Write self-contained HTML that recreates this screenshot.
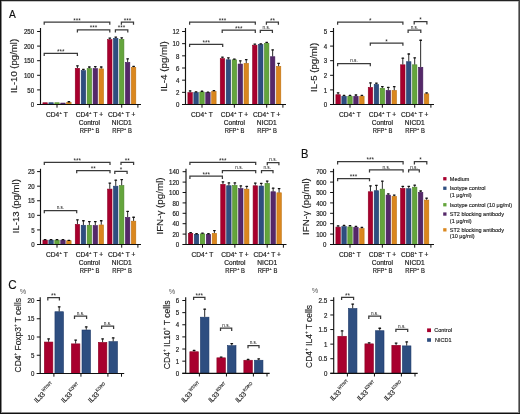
<!DOCTYPE html>
<html><head><meta charset="utf-8"><style>
html,body{margin:0;padding:0;background:#fff;}
body{width:520px;height:414px;overflow:hidden;}
svg{display:block;font-family:"Liberation Sans", sans-serif;will-change:transform;}
</style></head><body>
<svg width="520" height="414" viewBox="0 0 520 414">
<rect width="520" height="414" fill="#fff"/>
<rect x="42.9" y="102.76" width="4.4" height="1.74" fill="#a8002e" stroke="#8a0022" stroke-width="0.6"/>
<rect x="48.85" y="102.76" width="4.4" height="1.74" fill="#2e4e80" stroke="#1c3868" stroke-width="0.6"/>
<rect x="54.8" y="102.76" width="4.4" height="1.74" fill="#64a53c" stroke="#4a8428" stroke-width="0.6"/>
<rect x="60.75" y="103.05" width="4.4" height="1.45" fill="#552869" stroke="#40185a" stroke-width="0.6"/>
<rect x="66.7" y="102.46" width="4.4" height="2.04" fill="#da871e" stroke="#bf700e" stroke-width="0.6"/>
<line x1="68.9" y1="102.16" x2="68.9" y2="101.58" stroke="#111" stroke-width="0.9"/>
<rect x="67.55" y="101.08" width="2.7" height="1.3" rx="0.4" fill="#111"/>
<rect x="75.25" y="68.3" width="4.4" height="36.2" fill="#a8002e" stroke="#8a0022" stroke-width="0.6"/>
<line x1="77.45" y1="68" x2="77.45" y2="65.66" stroke="#111" stroke-width="0.9"/>
<rect x="76.1" y="65.16" width="2.7" height="1.3" rx="0.4" fill="#111"/>
<rect x="81.2" y="70.64" width="4.4" height="33.86" fill="#2e4e80" stroke="#1c3868" stroke-width="0.6"/>
<line x1="83.4" y1="70.34" x2="83.4" y2="69.17" stroke="#111" stroke-width="0.9"/>
<rect x="82.05" y="68.67" width="2.7" height="1.3" rx="0.4" fill="#111"/>
<rect x="87.15" y="68.59" width="4.4" height="35.91" fill="#64a53c" stroke="#4a8428" stroke-width="0.6"/>
<line x1="89.35" y1="68.29" x2="89.35" y2="66.83" stroke="#111" stroke-width="0.9"/>
<rect x="88" y="66.33" width="2.7" height="1.3" rx="0.4" fill="#111"/>
<rect x="93.1" y="68.59" width="4.4" height="35.91" fill="#552869" stroke="#40185a" stroke-width="0.6"/>
<line x1="95.3" y1="68.29" x2="95.3" y2="66.54" stroke="#111" stroke-width="0.9"/>
<rect x="93.95" y="66.04" width="2.7" height="1.3" rx="0.4" fill="#111"/>
<rect x="99.05" y="68.88" width="4.4" height="35.62" fill="#da871e" stroke="#bf700e" stroke-width="0.6"/>
<line x1="101.25" y1="68.58" x2="101.25" y2="66.83" stroke="#111" stroke-width="0.9"/>
<rect x="99.9" y="66.33" width="2.7" height="1.3" rx="0.4" fill="#111"/>
<rect x="107.6" y="39.68" width="4.4" height="64.82" fill="#a8002e" stroke="#8a0022" stroke-width="0.6"/>
<line x1="109.8" y1="39.38" x2="109.8" y2="37.92" stroke="#111" stroke-width="0.9"/>
<rect x="108.45" y="37.42" width="2.7" height="1.3" rx="0.4" fill="#111"/>
<rect x="113.55" y="38.37" width="4.4" height="66.13" fill="#2e4e80" stroke="#1c3868" stroke-width="0.6"/>
<line x1="115.75" y1="38.07" x2="115.75" y2="36.9" stroke="#111" stroke-width="0.9"/>
<rect x="114.4" y="36.4" width="2.7" height="1.3" rx="0.4" fill="#111"/>
<rect x="119.5" y="39.39" width="4.4" height="65.11" fill="#64a53c" stroke="#4a8428" stroke-width="0.6"/>
<line x1="121.7" y1="39.09" x2="121.7" y2="37.63" stroke="#111" stroke-width="0.9"/>
<rect x="120.35" y="37.13" width="2.7" height="1.3" rx="0.4" fill="#111"/>
<rect x="125.45" y="62.46" width="4.4" height="42.04" fill="#552869" stroke="#40185a" stroke-width="0.6"/>
<line x1="127.65" y1="62.16" x2="127.65" y2="58.66" stroke="#111" stroke-width="0.9"/>
<rect x="126.3" y="58.16" width="2.7" height="1.3" rx="0.4" fill="#111"/>
<rect x="131.4" y="67.42" width="4.4" height="37.08" fill="#da871e" stroke="#bf700e" stroke-width="0.6"/>
<line x1="133.6" y1="67.12" x2="133.6" y2="66.25" stroke="#111" stroke-width="0.9"/>
<rect x="132.25" y="65.75" width="2.7" height="1.3" rx="0.4" fill="#111"/>
<line x1="40.5" y1="28" x2="40.5" y2="105" stroke="#111" stroke-width="1.15"/>
<line x1="37.1" y1="104.5" x2="141" y2="104.5" stroke="#111" stroke-width="1.15"/>
<line x1="37.1" y1="104.5" x2="40.5" y2="104.5" stroke="#111" stroke-width="1"/>
<text x="34.1" y="107.23" font-size="6.8" text-anchor="end" fill="#1e1e1e" stroke="#1e1e1e" stroke-width="0.2" textLength="3.4" lengthAdjust="spacingAndGlyphs">0</text>
<line x1="37.1" y1="89.9" x2="40.5" y2="89.9" stroke="#111" stroke-width="1"/>
<text x="34.1" y="92.63" font-size="6.8" text-anchor="end" fill="#1e1e1e" stroke="#1e1e1e" stroke-width="0.2" textLength="6.8" lengthAdjust="spacingAndGlyphs">50</text>
<line x1="37.1" y1="75.3" x2="40.5" y2="75.3" stroke="#111" stroke-width="1"/>
<text x="34.1" y="78.03" font-size="6.8" text-anchor="end" fill="#1e1e1e" stroke="#1e1e1e" stroke-width="0.2" textLength="10.2" lengthAdjust="spacingAndGlyphs">100</text>
<line x1="37.1" y1="60.7" x2="40.5" y2="60.7" stroke="#111" stroke-width="1"/>
<text x="34.1" y="63.43" font-size="6.8" text-anchor="end" fill="#1e1e1e" stroke="#1e1e1e" stroke-width="0.2" textLength="10.2" lengthAdjust="spacingAndGlyphs">150</text>
<line x1="37.1" y1="46.1" x2="40.5" y2="46.1" stroke="#111" stroke-width="1"/>
<text x="34.1" y="48.83" font-size="6.8" text-anchor="end" fill="#1e1e1e" stroke="#1e1e1e" stroke-width="0.2" textLength="10.2" lengthAdjust="spacingAndGlyphs">200</text>
<line x1="37.1" y1="31.5" x2="40.5" y2="31.5" stroke="#111" stroke-width="1"/>
<text x="34.1" y="34.23" font-size="6.8" text-anchor="end" fill="#1e1e1e" stroke="#1e1e1e" stroke-width="0.2" textLength="10.2" lengthAdjust="spacingAndGlyphs">250</text>
<line x1="57" y1="104.5" x2="57" y2="107.7" stroke="#111" stroke-width="1"/>
<line x1="89.35" y1="104.5" x2="89.35" y2="107.7" stroke="#111" stroke-width="1"/>
<line x1="121.7" y1="104.5" x2="121.7" y2="107.7" stroke="#111" stroke-width="1"/>
<line x1="137.9" y1="104.5" x2="137.9" y2="107.7" stroke="#111" stroke-width="1"/>
<path d="M44.2 24.7V22H109.8V24.7" fill="none" stroke="#3a3a3a" stroke-width="1.25"/>
<text x="77" y="22.5" font-size="6.4" text-anchor="middle" fill="#1a1a1a">***</text>
<path d="M77.4 32.6V29.9H109.8V32.6" fill="none" stroke="#3a3a3a" stroke-width="1.25"/>
<text x="93.6" y="30.4" font-size="6.4" text-anchor="middle" fill="#1a1a1a">***</text>
<path d="M44.2 56.1V53.4H77.4V56.1" fill="none" stroke="#3a3a3a" stroke-width="1.25"/>
<text x="60.8" y="53.9" font-size="6.4" text-anchor="middle" fill="#1a1a1a">***</text>
<path d="M115.4 32.6V29.9H127.8V32.6" fill="none" stroke="#3a3a3a" stroke-width="1.25"/>
<text x="121.6" y="30.4" font-size="6.4" text-anchor="middle" fill="#1a1a1a">***</text>
<path d="M121.4 24.7V22H133.5V24.7" fill="none" stroke="#3a3a3a" stroke-width="1.25"/>
<text x="127.45" y="22.5" font-size="6.4" text-anchor="middle" fill="#1a1a1a">***</text>
<text transform="translate(16.9 66) rotate(-90)" font-size="9.8" text-anchor="middle" fill="#1e1e1e" stroke="#1e1e1e" stroke-width="0.15" textLength="54.2" lengthAdjust="spacingAndGlyphs">IL-10 (pg/ml)</text>
<rect x="187.9" y="92.63" width="4.4" height="11.87" fill="#a8002e" stroke="#8a0022" stroke-width="0.6"/>
<line x1="190.1" y1="92.33" x2="190.1" y2="90.81" stroke="#111" stroke-width="0.9"/>
<rect x="188.75" y="90.31" width="2.7" height="1.3" rx="0.4" fill="#111"/>
<rect x="193.85" y="92.63" width="4.4" height="11.87" fill="#2e4e80" stroke="#1c3868" stroke-width="0.6"/>
<line x1="196.05" y1="92.33" x2="196.05" y2="91.72" stroke="#111" stroke-width="0.9"/>
<rect x="194.7" y="91.22" width="2.7" height="1.3" rx="0.4" fill="#111"/>
<rect x="199.8" y="92.02" width="4.4" height="12.48" fill="#64a53c" stroke="#4a8428" stroke-width="0.6"/>
<line x1="202" y1="91.72" x2="202" y2="91.12" stroke="#111" stroke-width="0.9"/>
<rect x="200.65" y="90.62" width="2.7" height="1.3" rx="0.4" fill="#111"/>
<rect x="205.75" y="92.63" width="4.4" height="11.87" fill="#552869" stroke="#40185a" stroke-width="0.6"/>
<line x1="207.95" y1="92.33" x2="207.95" y2="92.03" stroke="#111" stroke-width="0.9"/>
<rect x="206.6" y="91.53" width="2.7" height="1.3" rx="0.4" fill="#111"/>
<rect x="211.7" y="91.42" width="4.4" height="13.08" fill="#da871e" stroke="#bf700e" stroke-width="0.6"/>
<line x1="213.9" y1="91.12" x2="213.9" y2="90.51" stroke="#111" stroke-width="0.9"/>
<rect x="212.55" y="90.01" width="2.7" height="1.3" rx="0.4" fill="#111"/>
<rect x="220.25" y="58.57" width="4.4" height="45.93" fill="#a8002e" stroke="#8a0022" stroke-width="0.6"/>
<line x1="222.45" y1="58.27" x2="222.45" y2="57.05" stroke="#111" stroke-width="0.9"/>
<rect x="221.1" y="56.55" width="2.7" height="1.3" rx="0.4" fill="#111"/>
<rect x="226.2" y="59.78" width="4.4" height="44.72" fill="#2e4e80" stroke="#1c3868" stroke-width="0.6"/>
<line x1="228.4" y1="59.48" x2="228.4" y2="57.66" stroke="#111" stroke-width="0.9"/>
<rect x="227.05" y="57.16" width="2.7" height="1.3" rx="0.4" fill="#111"/>
<rect x="232.15" y="59.78" width="4.4" height="44.72" fill="#64a53c" stroke="#4a8428" stroke-width="0.6"/>
<line x1="234.35" y1="59.48" x2="234.35" y2="58.88" stroke="#111" stroke-width="0.9"/>
<rect x="233" y="58.38" width="2.7" height="1.3" rx="0.4" fill="#111"/>
<rect x="238.1" y="64.04" width="4.4" height="40.46" fill="#552869" stroke="#40185a" stroke-width="0.6"/>
<line x1="240.3" y1="63.74" x2="240.3" y2="60.7" stroke="#111" stroke-width="0.9"/>
<rect x="238.95" y="60.2" width="2.7" height="1.3" rx="0.4" fill="#111"/>
<rect x="244.05" y="63.43" width="4.4" height="41.07" fill="#da871e" stroke="#bf700e" stroke-width="0.6"/>
<line x1="246.25" y1="63.13" x2="246.25" y2="59.48" stroke="#111" stroke-width="0.9"/>
<rect x="244.9" y="58.98" width="2.7" height="1.3" rx="0.4" fill="#111"/>
<rect x="252.6" y="45.18" width="4.4" height="59.32" fill="#a8002e" stroke="#8a0022" stroke-width="0.6"/>
<line x1="254.8" y1="44.88" x2="254.8" y2="43.97" stroke="#111" stroke-width="0.9"/>
<rect x="253.45" y="43.47" width="2.7" height="1.3" rx="0.4" fill="#111"/>
<rect x="258.55" y="44.57" width="4.4" height="59.93" fill="#2e4e80" stroke="#1c3868" stroke-width="0.6"/>
<line x1="260.75" y1="44.27" x2="260.75" y2="43.67" stroke="#111" stroke-width="0.9"/>
<rect x="259.4" y="43.17" width="2.7" height="1.3" rx="0.4" fill="#111"/>
<rect x="264.5" y="43.36" width="4.4" height="61.14" fill="#64a53c" stroke="#4a8428" stroke-width="0.6"/>
<line x1="266.7" y1="43.06" x2="266.7" y2="42.15" stroke="#111" stroke-width="0.9"/>
<rect x="265.35" y="41.65" width="2.7" height="1.3" rx="0.4" fill="#111"/>
<rect x="270.45" y="56.74" width="4.4" height="47.76" fill="#552869" stroke="#40185a" stroke-width="0.6"/>
<line x1="272.65" y1="56.44" x2="272.65" y2="49.75" stroke="#111" stroke-width="0.9"/>
<rect x="271.3" y="49.25" width="2.7" height="1.3" rx="0.4" fill="#111"/>
<rect x="276.4" y="66.48" width="4.4" height="38.02" fill="#da871e" stroke="#bf700e" stroke-width="0.6"/>
<line x1="278.6" y1="66.18" x2="278.6" y2="63.13" stroke="#111" stroke-width="0.9"/>
<rect x="277.25" y="62.63" width="2.7" height="1.3" rx="0.4" fill="#111"/>
<line x1="185.5" y1="28" x2="185.5" y2="105" stroke="#111" stroke-width="1.15"/>
<line x1="182.1" y1="104.5" x2="286" y2="104.5" stroke="#111" stroke-width="1.15"/>
<line x1="182.1" y1="104.5" x2="185.5" y2="104.5" stroke="#111" stroke-width="1"/>
<text x="179.4" y="107.23" font-size="6.8" text-anchor="end" fill="#1e1e1e" stroke="#1e1e1e" stroke-width="0.2" textLength="3.4" lengthAdjust="spacingAndGlyphs">0</text>
<line x1="182.1" y1="92.33" x2="185.5" y2="92.33" stroke="#111" stroke-width="1"/>
<text x="179.4" y="95.06" font-size="6.8" text-anchor="end" fill="#1e1e1e" stroke="#1e1e1e" stroke-width="0.2" textLength="3.4" lengthAdjust="spacingAndGlyphs">2</text>
<line x1="182.1" y1="80.17" x2="185.5" y2="80.17" stroke="#111" stroke-width="1"/>
<text x="179.4" y="82.9" font-size="6.8" text-anchor="end" fill="#1e1e1e" stroke="#1e1e1e" stroke-width="0.2" textLength="3.4" lengthAdjust="spacingAndGlyphs">4</text>
<line x1="182.1" y1="68" x2="185.5" y2="68" stroke="#111" stroke-width="1"/>
<text x="179.4" y="70.73" font-size="6.8" text-anchor="end" fill="#1e1e1e" stroke="#1e1e1e" stroke-width="0.2" textLength="3.4" lengthAdjust="spacingAndGlyphs">6</text>
<line x1="182.1" y1="55.83" x2="185.5" y2="55.83" stroke="#111" stroke-width="1"/>
<text x="179.4" y="58.56" font-size="6.8" text-anchor="end" fill="#1e1e1e" stroke="#1e1e1e" stroke-width="0.2" textLength="3.4" lengthAdjust="spacingAndGlyphs">8</text>
<line x1="182.1" y1="43.67" x2="185.5" y2="43.67" stroke="#111" stroke-width="1"/>
<text x="179.4" y="46.4" font-size="6.8" text-anchor="end" fill="#1e1e1e" stroke="#1e1e1e" stroke-width="0.2" textLength="6.8" lengthAdjust="spacingAndGlyphs">10</text>
<line x1="182.1" y1="31.5" x2="185.5" y2="31.5" stroke="#111" stroke-width="1"/>
<text x="179.4" y="34.23" font-size="6.8" text-anchor="end" fill="#1e1e1e" stroke="#1e1e1e" stroke-width="0.2" textLength="6.8" lengthAdjust="spacingAndGlyphs">12</text>
<line x1="202" y1="104.5" x2="202" y2="107.7" stroke="#111" stroke-width="1"/>
<line x1="234.35" y1="104.5" x2="234.35" y2="107.7" stroke="#111" stroke-width="1"/>
<line x1="266.7" y1="104.5" x2="266.7" y2="107.7" stroke="#111" stroke-width="1"/>
<line x1="282.9" y1="104.5" x2="282.9" y2="107.7" stroke="#111" stroke-width="1"/>
<path d="M189.6 24.8V22.1H255.3V24.8" fill="none" stroke="#3a3a3a" stroke-width="1.25"/>
<text x="222.45" y="22.6" font-size="6.4" text-anchor="middle" fill="#1a1a1a">***</text>
<path d="M222.2 32.9V30.2H255.3V32.9" fill="none" stroke="#3a3a3a" stroke-width="1.25"/>
<text x="238.75" y="30.7" font-size="6.4" text-anchor="middle" fill="#1a1a1a">***</text>
<path d="M189.6 47V44.3H222.7V47" fill="none" stroke="#3a3a3a" stroke-width="1.25"/>
<text x="206.15" y="44.8" font-size="6.4" text-anchor="middle" fill="#1a1a1a">***</text>
<path d="M260.3 33V30.3H272.4V33" fill="none" stroke="#3a3a3a" stroke-width="1.25"/>
<text x="266.35" y="28.9" font-size="5.2" text-anchor="middle" fill="#1e1e1e" stroke="#1e1e1e" stroke-width="0.04" textLength="7.6" lengthAdjust="spacingAndGlyphs">n.s.</text>
<path d="M266.4 24.7V22H278.4V24.7" fill="none" stroke="#3a3a3a" stroke-width="1.25"/>
<text x="272.4" y="22.5" font-size="6.4" text-anchor="middle" fill="#1a1a1a">**</text>
<text transform="translate(166.9 66.4) rotate(-90)" font-size="9.8" text-anchor="middle" fill="#1e1e1e" stroke="#1e1e1e" stroke-width="0.15" textLength="50.2" lengthAdjust="spacingAndGlyphs">IL-4 (pg/ml)</text>
<rect x="335.9" y="94.73" width="4.4" height="9.77" fill="#a8002e" stroke="#8a0022" stroke-width="0.6"/>
<line x1="338.1" y1="94.43" x2="338.1" y2="92.67" stroke="#111" stroke-width="0.9"/>
<rect x="336.75" y="92.17" width="2.7" height="1.3" rx="0.4" fill="#111"/>
<rect x="341.85" y="96.33" width="4.4" height="8.17" fill="#2e4e80" stroke="#1c3868" stroke-width="0.6"/>
<line x1="344.05" y1="96.03" x2="344.05" y2="95.3" stroke="#111" stroke-width="0.9"/>
<rect x="342.7" y="94.8" width="2.7" height="1.3" rx="0.4" fill="#111"/>
<rect x="347.8" y="96.33" width="4.4" height="8.17" fill="#64a53c" stroke="#4a8428" stroke-width="0.6"/>
<line x1="350" y1="96.03" x2="350" y2="95.3" stroke="#111" stroke-width="0.9"/>
<rect x="348.65" y="94.8" width="2.7" height="1.3" rx="0.4" fill="#111"/>
<rect x="353.75" y="96.33" width="4.4" height="8.17" fill="#552869" stroke="#40185a" stroke-width="0.6"/>
<line x1="355.95" y1="96.03" x2="355.95" y2="94.86" stroke="#111" stroke-width="0.9"/>
<rect x="354.6" y="94.36" width="2.7" height="1.3" rx="0.4" fill="#111"/>
<rect x="359.7" y="96.33" width="4.4" height="8.17" fill="#da871e" stroke="#bf700e" stroke-width="0.6"/>
<line x1="361.9" y1="96.03" x2="361.9" y2="95.16" stroke="#111" stroke-width="0.9"/>
<rect x="360.55" y="94.66" width="2.7" height="1.3" rx="0.4" fill="#111"/>
<rect x="368.25" y="87.43" width="4.4" height="17.07" fill="#a8002e" stroke="#8a0022" stroke-width="0.6"/>
<line x1="370.45" y1="87.13" x2="370.45" y2="82.75" stroke="#111" stroke-width="0.9"/>
<rect x="369.1" y="82.25" width="2.7" height="1.3" rx="0.4" fill="#111"/>
<rect x="374.2" y="84.51" width="4.4" height="19.99" fill="#2e4e80" stroke="#1c3868" stroke-width="0.6"/>
<line x1="376.4" y1="84.21" x2="376.4" y2="83.04" stroke="#111" stroke-width="0.9"/>
<rect x="375.05" y="82.54" width="2.7" height="1.3" rx="0.4" fill="#111"/>
<rect x="380.15" y="88.3" width="4.4" height="16.2" fill="#64a53c" stroke="#4a8428" stroke-width="0.6"/>
<line x1="382.35" y1="88" x2="382.35" y2="86.54" stroke="#111" stroke-width="0.9"/>
<rect x="381" y="86.04" width="2.7" height="1.3" rx="0.4" fill="#111"/>
<rect x="386.1" y="90.49" width="4.4" height="14.01" fill="#552869" stroke="#40185a" stroke-width="0.6"/>
<line x1="388.3" y1="90.19" x2="388.3" y2="87.27" stroke="#111" stroke-width="0.9"/>
<rect x="386.95" y="86.77" width="2.7" height="1.3" rx="0.4" fill="#111"/>
<rect x="392.05" y="90.49" width="4.4" height="14.01" fill="#da871e" stroke="#bf700e" stroke-width="0.6"/>
<line x1="394.25" y1="90.19" x2="394.25" y2="86.54" stroke="#111" stroke-width="0.9"/>
<rect x="392.9" y="86.04" width="2.7" height="1.3" rx="0.4" fill="#111"/>
<rect x="400.6" y="64.8" width="4.4" height="39.7" fill="#a8002e" stroke="#8a0022" stroke-width="0.6"/>
<line x1="402.8" y1="64.5" x2="402.8" y2="58" stroke="#111" stroke-width="0.9"/>
<rect x="401.45" y="57.5" width="2.7" height="1.3" rx="0.4" fill="#111"/>
<rect x="406.55" y="61.73" width="4.4" height="42.77" fill="#2e4e80" stroke="#1c3868" stroke-width="0.6"/>
<line x1="408.75" y1="61.43" x2="408.75" y2="53.84" stroke="#111" stroke-width="0.9"/>
<rect x="407.4" y="53.34" width="2.7" height="1.3" rx="0.4" fill="#111"/>
<rect x="412.5" y="64.8" width="4.4" height="39.7" fill="#64a53c" stroke="#4a8428" stroke-width="0.6"/>
<line x1="414.7" y1="64.5" x2="414.7" y2="57.63" stroke="#111" stroke-width="0.9"/>
<rect x="413.35" y="57.13" width="2.7" height="1.3" rx="0.4" fill="#111"/>
<rect x="418.45" y="67.28" width="4.4" height="37.22" fill="#552869" stroke="#40185a" stroke-width="0.6"/>
<line x1="420.65" y1="66.98" x2="420.65" y2="40.11" stroke="#111" stroke-width="0.9"/>
<rect x="419.3" y="39.61" width="2.7" height="1.3" rx="0.4" fill="#111"/>
<rect x="424.4" y="93.85" width="4.4" height="10.65" fill="#da871e" stroke="#bf700e" stroke-width="0.6"/>
<line x1="426.6" y1="93.55" x2="426.6" y2="92.82" stroke="#111" stroke-width="0.9"/>
<rect x="425.25" y="92.32" width="2.7" height="1.3" rx="0.4" fill="#111"/>
<line x1="333.5" y1="28" x2="333.5" y2="105" stroke="#111" stroke-width="1.15"/>
<line x1="330.1" y1="104.5" x2="434" y2="104.5" stroke="#111" stroke-width="1.15"/>
<line x1="330.1" y1="104.5" x2="333.5" y2="104.5" stroke="#111" stroke-width="1"/>
<text x="327.1" y="107.23" font-size="6.8" text-anchor="end" fill="#1e1e1e" stroke="#1e1e1e" stroke-width="0.2" textLength="3.4" lengthAdjust="spacingAndGlyphs">0</text>
<line x1="330.1" y1="89.9" x2="333.5" y2="89.9" stroke="#111" stroke-width="1"/>
<text x="327.1" y="92.63" font-size="6.8" text-anchor="end" fill="#1e1e1e" stroke="#1e1e1e" stroke-width="0.2" textLength="3.4" lengthAdjust="spacingAndGlyphs">1</text>
<line x1="330.1" y1="75.3" x2="333.5" y2="75.3" stroke="#111" stroke-width="1"/>
<text x="327.1" y="78.03" font-size="6.8" text-anchor="end" fill="#1e1e1e" stroke="#1e1e1e" stroke-width="0.2" textLength="3.4" lengthAdjust="spacingAndGlyphs">2</text>
<line x1="330.1" y1="60.7" x2="333.5" y2="60.7" stroke="#111" stroke-width="1"/>
<text x="327.1" y="63.43" font-size="6.8" text-anchor="end" fill="#1e1e1e" stroke="#1e1e1e" stroke-width="0.2" textLength="3.4" lengthAdjust="spacingAndGlyphs">3</text>
<line x1="330.1" y1="46.1" x2="333.5" y2="46.1" stroke="#111" stroke-width="1"/>
<text x="327.1" y="48.83" font-size="6.8" text-anchor="end" fill="#1e1e1e" stroke="#1e1e1e" stroke-width="0.2" textLength="3.4" lengthAdjust="spacingAndGlyphs">4</text>
<line x1="330.1" y1="31.5" x2="333.5" y2="31.5" stroke="#111" stroke-width="1"/>
<text x="327.1" y="34.23" font-size="6.8" text-anchor="end" fill="#1e1e1e" stroke="#1e1e1e" stroke-width="0.2" textLength="3.4" lengthAdjust="spacingAndGlyphs">5</text>
<line x1="350" y1="104.5" x2="350" y2="107.7" stroke="#111" stroke-width="1"/>
<line x1="382.35" y1="104.5" x2="382.35" y2="107.7" stroke="#111" stroke-width="1"/>
<line x1="414.7" y1="104.5" x2="414.7" y2="107.7" stroke="#111" stroke-width="1"/>
<line x1="430.9" y1="104.5" x2="430.9" y2="107.7" stroke="#111" stroke-width="1"/>
<path d="M337.6 24.7V22H402.9V24.7" fill="none" stroke="#3a3a3a" stroke-width="1.25"/>
<text x="370.25" y="22.5" font-size="6.4" text-anchor="middle" fill="#1a1a1a">*</text>
<path d="M370.3 45.8V43.1H402.9V45.8" fill="none" stroke="#3a3a3a" stroke-width="1.25"/>
<text x="386.6" y="43.6" font-size="6.4" text-anchor="middle" fill="#1a1a1a">*</text>
<path d="M337.6 66.2V63.5H370.3V66.2" fill="none" stroke="#3a3a3a" stroke-width="1.25"/>
<text x="353.95" y="62.1" font-size="5.2" text-anchor="middle" fill="#1e1e1e" stroke="#1e1e1e" stroke-width="0.04" textLength="7.6" lengthAdjust="spacingAndGlyphs">n.s.</text>
<path d="M408.1 32.9V30.2H420.8V32.9" fill="none" stroke="#3a3a3a" stroke-width="1.25"/>
<text x="414.45" y="28.8" font-size="5.2" text-anchor="middle" fill="#1e1e1e" stroke="#1e1e1e" stroke-width="0.04" textLength="7.6" lengthAdjust="spacingAndGlyphs">n.s.</text>
<path d="M414.2 24.4V21.7H426.9V24.4" fill="none" stroke="#3a3a3a" stroke-width="1.25"/>
<text x="420.55" y="22.2" font-size="6.4" text-anchor="middle" fill="#1a1a1a">*</text>
<text transform="translate(316.7 67.4) rotate(-90)" font-size="9.8" text-anchor="middle" fill="#1e1e1e" stroke="#1e1e1e" stroke-width="0.15" textLength="49.2" lengthAdjust="spacingAndGlyphs">IL-5 (pg/ml)</text>
<rect x="42.9" y="240.13" width="4.4" height="4.37" fill="#a8002e" stroke="#8a0022" stroke-width="0.6"/>
<line x1="45.1" y1="239.83" x2="45.1" y2="239.54" stroke="#111" stroke-width="0.9"/>
<rect x="43.75" y="239.04" width="2.7" height="1.3" rx="0.4" fill="#111"/>
<rect x="48.85" y="240.13" width="4.4" height="4.37" fill="#2e4e80" stroke="#1c3868" stroke-width="0.6"/>
<line x1="51.05" y1="239.83" x2="51.05" y2="239.54" stroke="#111" stroke-width="0.9"/>
<rect x="49.7" y="239.04" width="2.7" height="1.3" rx="0.4" fill="#111"/>
<rect x="54.8" y="240.13" width="4.4" height="4.37" fill="#64a53c" stroke="#4a8428" stroke-width="0.6"/>
<line x1="57" y1="239.83" x2="57" y2="239.54" stroke="#111" stroke-width="0.9"/>
<rect x="55.65" y="239.04" width="2.7" height="1.3" rx="0.4" fill="#111"/>
<rect x="60.75" y="240.13" width="4.4" height="4.37" fill="#552869" stroke="#40185a" stroke-width="0.6"/>
<line x1="62.95" y1="239.83" x2="62.95" y2="239.54" stroke="#111" stroke-width="0.9"/>
<rect x="61.6" y="239.04" width="2.7" height="1.3" rx="0.4" fill="#111"/>
<rect x="66.7" y="240.72" width="4.4" height="3.78" fill="#da871e" stroke="#bf700e" stroke-width="0.6"/>
<line x1="68.9" y1="240.42" x2="68.9" y2="240.13" stroke="#111" stroke-width="0.9"/>
<rect x="67.55" y="239.63" width="2.7" height="1.3" rx="0.4" fill="#111"/>
<rect x="75.25" y="224.39" width="4.4" height="20.11" fill="#a8002e" stroke="#8a0022" stroke-width="0.6"/>
<line x1="77.45" y1="224.09" x2="77.45" y2="219.71" stroke="#111" stroke-width="0.9"/>
<rect x="76.1" y="219.21" width="2.7" height="1.3" rx="0.4" fill="#111"/>
<rect x="81.2" y="225.26" width="4.4" height="19.24" fill="#2e4e80" stroke="#1c3868" stroke-width="0.6"/>
<line x1="83.4" y1="224.96" x2="83.4" y2="220.59" stroke="#111" stroke-width="0.9"/>
<rect x="82.05" y="220.09" width="2.7" height="1.3" rx="0.4" fill="#111"/>
<rect x="87.15" y="225.26" width="4.4" height="19.24" fill="#64a53c" stroke="#4a8428" stroke-width="0.6"/>
<line x1="89.35" y1="224.96" x2="89.35" y2="221.46" stroke="#111" stroke-width="0.9"/>
<rect x="88" y="220.96" width="2.7" height="1.3" rx="0.4" fill="#111"/>
<rect x="93.1" y="225.55" width="4.4" height="18.95" fill="#552869" stroke="#40185a" stroke-width="0.6"/>
<line x1="95.3" y1="225.25" x2="95.3" y2="221.46" stroke="#111" stroke-width="0.9"/>
<rect x="93.95" y="220.96" width="2.7" height="1.3" rx="0.4" fill="#111"/>
<rect x="99.05" y="224.97" width="4.4" height="19.53" fill="#da871e" stroke="#bf700e" stroke-width="0.6"/>
<line x1="101.25" y1="224.67" x2="101.25" y2="220.59" stroke="#111" stroke-width="0.9"/>
<rect x="99.9" y="220.09" width="2.7" height="1.3" rx="0.4" fill="#111"/>
<rect x="107.6" y="189.1" width="4.4" height="55.4" fill="#a8002e" stroke="#8a0022" stroke-width="0.6"/>
<line x1="109.8" y1="188.8" x2="109.8" y2="182.97" stroke="#111" stroke-width="0.9"/>
<rect x="108.45" y="182.47" width="2.7" height="1.3" rx="0.4" fill="#111"/>
<rect x="113.55" y="186.19" width="4.4" height="58.31" fill="#2e4e80" stroke="#1c3868" stroke-width="0.6"/>
<line x1="115.75" y1="185.89" x2="115.75" y2="180.06" stroke="#111" stroke-width="0.9"/>
<rect x="114.4" y="179.56" width="2.7" height="1.3" rx="0.4" fill="#111"/>
<rect x="119.5" y="185.61" width="4.4" height="58.89" fill="#64a53c" stroke="#4a8428" stroke-width="0.6"/>
<line x1="121.7" y1="185.31" x2="121.7" y2="179.47" stroke="#111" stroke-width="0.9"/>
<rect x="120.35" y="178.97" width="2.7" height="1.3" rx="0.4" fill="#111"/>
<rect x="125.45" y="217.39" width="4.4" height="27.11" fill="#552869" stroke="#40185a" stroke-width="0.6"/>
<line x1="127.65" y1="217.09" x2="127.65" y2="211.26" stroke="#111" stroke-width="0.9"/>
<rect x="126.3" y="210.76" width="2.7" height="1.3" rx="0.4" fill="#111"/>
<rect x="131.4" y="221.18" width="4.4" height="23.32" fill="#da871e" stroke="#bf700e" stroke-width="0.6"/>
<line x1="133.6" y1="220.88" x2="133.6" y2="217.09" stroke="#111" stroke-width="0.9"/>
<rect x="132.25" y="216.59" width="2.7" height="1.3" rx="0.4" fill="#111"/>
<line x1="40.5" y1="168.8" x2="40.5" y2="245" stroke="#111" stroke-width="1.15"/>
<line x1="37.1" y1="244.5" x2="141" y2="244.5" stroke="#111" stroke-width="1.15"/>
<line x1="37.1" y1="244.5" x2="40.5" y2="244.5" stroke="#111" stroke-width="1"/>
<text x="34.7" y="247.23" font-size="6.8" text-anchor="end" fill="#1e1e1e" stroke="#1e1e1e" stroke-width="0.2" textLength="3.4" lengthAdjust="spacingAndGlyphs">0</text>
<line x1="37.1" y1="229.92" x2="40.5" y2="229.92" stroke="#111" stroke-width="1"/>
<text x="34.7" y="232.65" font-size="6.8" text-anchor="end" fill="#1e1e1e" stroke="#1e1e1e" stroke-width="0.2" textLength="3.4" lengthAdjust="spacingAndGlyphs">5</text>
<line x1="37.1" y1="215.34" x2="40.5" y2="215.34" stroke="#111" stroke-width="1"/>
<text x="34.7" y="218.07" font-size="6.8" text-anchor="end" fill="#1e1e1e" stroke="#1e1e1e" stroke-width="0.2" textLength="6.8" lengthAdjust="spacingAndGlyphs">10</text>
<line x1="37.1" y1="200.76" x2="40.5" y2="200.76" stroke="#111" stroke-width="1"/>
<text x="34.7" y="203.49" font-size="6.8" text-anchor="end" fill="#1e1e1e" stroke="#1e1e1e" stroke-width="0.2" textLength="6.8" lengthAdjust="spacingAndGlyphs">15</text>
<line x1="37.1" y1="186.18" x2="40.5" y2="186.18" stroke="#111" stroke-width="1"/>
<text x="34.7" y="188.91" font-size="6.8" text-anchor="end" fill="#1e1e1e" stroke="#1e1e1e" stroke-width="0.2" textLength="6.8" lengthAdjust="spacingAndGlyphs">20</text>
<line x1="37.1" y1="171.6" x2="40.5" y2="171.6" stroke="#111" stroke-width="1"/>
<text x="34.7" y="174.33" font-size="6.8" text-anchor="end" fill="#1e1e1e" stroke="#1e1e1e" stroke-width="0.2" textLength="6.8" lengthAdjust="spacingAndGlyphs">25</text>
<line x1="57" y1="244.5" x2="57" y2="247.7" stroke="#111" stroke-width="1"/>
<line x1="89.35" y1="244.5" x2="89.35" y2="247.7" stroke="#111" stroke-width="1"/>
<line x1="121.7" y1="244.5" x2="121.7" y2="247.7" stroke="#111" stroke-width="1"/>
<line x1="137.9" y1="244.5" x2="137.9" y2="247.7" stroke="#111" stroke-width="1"/>
<path d="M44.3 165.1V162.4H110V165.1" fill="none" stroke="#3a3a3a" stroke-width="1.25"/>
<text x="77.15" y="162.9" font-size="6.4" text-anchor="middle" fill="#1a1a1a">***</text>
<path d="M76.7 173.3V170.6H110V173.3" fill="none" stroke="#3a3a3a" stroke-width="1.25"/>
<text x="93.35" y="171.1" font-size="6.4" text-anchor="middle" fill="#1a1a1a">**</text>
<path d="M44.3 213.3V210.6H76.7V213.3" fill="none" stroke="#3a3a3a" stroke-width="1.25"/>
<text x="60.5" y="209.2" font-size="5.2" text-anchor="middle" fill="#1e1e1e" stroke="#1e1e1e" stroke-width="0.04" textLength="7.6" lengthAdjust="spacingAndGlyphs">n.s.</text>
<path d="M114.8 174V171.3H127.1V174" fill="none" stroke="#3a3a3a" stroke-width="1.25"/>
<text x="120.95" y="171.8" font-size="6.4" text-anchor="middle" fill="#1a1a1a">*</text>
<path d="M121 165.1V162.4H133.6V165.1" fill="none" stroke="#3a3a3a" stroke-width="1.25"/>
<text x="127.3" y="162.9" font-size="6.4" text-anchor="middle" fill="#1a1a1a">**</text>
<text transform="translate(19.1 206.2) rotate(-90)" font-size="9.8" text-anchor="middle" fill="#1e1e1e" stroke="#1e1e1e" stroke-width="0.15" textLength="54.1" lengthAdjust="spacingAndGlyphs">IL-13 (pg/ml)</text>
<rect x="188.4" y="233.36" width="4.4" height="11.14" fill="#a8002e" stroke="#8a0022" stroke-width="0.6"/>
<line x1="190.6" y1="233.06" x2="190.6" y2="232.54" stroke="#111" stroke-width="0.9"/>
<rect x="189.25" y="232.04" width="2.7" height="1.3" rx="0.4" fill="#111"/>
<rect x="194.35" y="234.4" width="4.4" height="10.1" fill="#2e4e80" stroke="#1c3868" stroke-width="0.6"/>
<line x1="196.55" y1="234.1" x2="196.55" y2="233.58" stroke="#111" stroke-width="0.9"/>
<rect x="195.2" y="233.08" width="2.7" height="1.3" rx="0.4" fill="#111"/>
<rect x="200.3" y="233.88" width="4.4" height="10.62" fill="#64a53c" stroke="#4a8428" stroke-width="0.6"/>
<line x1="202.5" y1="233.58" x2="202.5" y2="233.06" stroke="#111" stroke-width="0.9"/>
<rect x="201.15" y="232.56" width="2.7" height="1.3" rx="0.4" fill="#111"/>
<rect x="206.25" y="234.4" width="4.4" height="10.1" fill="#552869" stroke="#40185a" stroke-width="0.6"/>
<line x1="208.45" y1="234.1" x2="208.45" y2="233.58" stroke="#111" stroke-width="0.9"/>
<rect x="207.1" y="233.08" width="2.7" height="1.3" rx="0.4" fill="#111"/>
<rect x="212.2" y="233.36" width="4.4" height="11.14" fill="#da871e" stroke="#bf700e" stroke-width="0.6"/>
<line x1="214.4" y1="233.06" x2="214.4" y2="230.46" stroke="#111" stroke-width="0.9"/>
<rect x="213.05" y="229.96" width="2.7" height="1.3" rx="0.4" fill="#111"/>
<rect x="220.75" y="184.32" width="4.4" height="60.18" fill="#a8002e" stroke="#8a0022" stroke-width="0.6"/>
<line x1="222.95" y1="184.02" x2="222.95" y2="181.68" stroke="#111" stroke-width="0.9"/>
<rect x="221.6" y="181.18" width="2.7" height="1.3" rx="0.4" fill="#111"/>
<rect x="226.7" y="185.73" width="4.4" height="58.77" fill="#2e4e80" stroke="#1c3868" stroke-width="0.6"/>
<line x1="228.9" y1="185.43" x2="228.9" y2="182.78" stroke="#111" stroke-width="0.9"/>
<rect x="227.55" y="182.28" width="2.7" height="1.3" rx="0.4" fill="#111"/>
<rect x="232.65" y="185.42" width="4.4" height="59.08" fill="#64a53c" stroke="#4a8428" stroke-width="0.6"/>
<line x1="234.85" y1="185.12" x2="234.85" y2="182.78" stroke="#111" stroke-width="0.9"/>
<rect x="233.5" y="182.28" width="2.7" height="1.3" rx="0.4" fill="#111"/>
<rect x="238.6" y="188.64" width="4.4" height="55.86" fill="#552869" stroke="#40185a" stroke-width="0.6"/>
<line x1="240.8" y1="188.34" x2="240.8" y2="185.74" stroke="#111" stroke-width="0.9"/>
<rect x="239.45" y="185.24" width="2.7" height="1.3" rx="0.4" fill="#111"/>
<rect x="244.55" y="189.16" width="4.4" height="55.34" fill="#da871e" stroke="#bf700e" stroke-width="0.6"/>
<line x1="246.75" y1="188.86" x2="246.75" y2="186.26" stroke="#111" stroke-width="0.9"/>
<rect x="245.4" y="185.76" width="2.7" height="1.3" rx="0.4" fill="#111"/>
<rect x="253.1" y="185.78" width="4.4" height="58.72" fill="#a8002e" stroke="#8a0022" stroke-width="0.6"/>
<line x1="255.3" y1="185.48" x2="255.3" y2="182.88" stroke="#111" stroke-width="0.9"/>
<rect x="253.95" y="182.38" width="2.7" height="1.3" rx="0.4" fill="#111"/>
<rect x="259.05" y="186.04" width="4.4" height="58.46" fill="#2e4e80" stroke="#1c3868" stroke-width="0.6"/>
<line x1="261.25" y1="185.74" x2="261.25" y2="183.14" stroke="#111" stroke-width="0.9"/>
<rect x="259.9" y="182.64" width="2.7" height="1.3" rx="0.4" fill="#111"/>
<rect x="265" y="183.44" width="4.4" height="61.06" fill="#64a53c" stroke="#4a8428" stroke-width="0.6"/>
<line x1="267.2" y1="183.14" x2="267.2" y2="180.9" stroke="#111" stroke-width="0.9"/>
<rect x="265.85" y="180.4" width="2.7" height="1.3" rx="0.4" fill="#111"/>
<rect x="270.95" y="191.76" width="4.4" height="52.74" fill="#552869" stroke="#40185a" stroke-width="0.6"/>
<line x1="273.15" y1="191.46" x2="273.15" y2="187.98" stroke="#111" stroke-width="0.9"/>
<rect x="271.8" y="187.48" width="2.7" height="1.3" rx="0.4" fill="#111"/>
<rect x="276.9" y="192.8" width="4.4" height="51.7" fill="#da871e" stroke="#bf700e" stroke-width="0.6"/>
<line x1="279.1" y1="192.5" x2="279.1" y2="188.39" stroke="#111" stroke-width="0.9"/>
<rect x="277.75" y="187.89" width="2.7" height="1.3" rx="0.4" fill="#111"/>
<line x1="186" y1="168.8" x2="186" y2="245" stroke="#111" stroke-width="1.15"/>
<line x1="182.6" y1="244.5" x2="286.5" y2="244.5" stroke="#111" stroke-width="1.15"/>
<line x1="182.6" y1="244.5" x2="186" y2="244.5" stroke="#111" stroke-width="1"/>
<text x="179.2" y="247.23" font-size="6.8" text-anchor="end" fill="#1e1e1e" stroke="#1e1e1e" stroke-width="0.2" textLength="3.4" lengthAdjust="spacingAndGlyphs">0</text>
<line x1="182.6" y1="234.1" x2="186" y2="234.1" stroke="#111" stroke-width="1"/>
<text x="179.2" y="236.83" font-size="6.8" text-anchor="end" fill="#1e1e1e" stroke="#1e1e1e" stroke-width="0.2" textLength="6.8" lengthAdjust="spacingAndGlyphs">20</text>
<line x1="182.6" y1="223.7" x2="186" y2="223.7" stroke="#111" stroke-width="1"/>
<text x="179.2" y="226.43" font-size="6.8" text-anchor="end" fill="#1e1e1e" stroke="#1e1e1e" stroke-width="0.2" textLength="6.8" lengthAdjust="spacingAndGlyphs">40</text>
<line x1="182.6" y1="213.3" x2="186" y2="213.3" stroke="#111" stroke-width="1"/>
<text x="179.2" y="216.03" font-size="6.8" text-anchor="end" fill="#1e1e1e" stroke="#1e1e1e" stroke-width="0.2" textLength="6.8" lengthAdjust="spacingAndGlyphs">60</text>
<line x1="182.6" y1="202.9" x2="186" y2="202.9" stroke="#111" stroke-width="1"/>
<text x="179.2" y="205.63" font-size="6.8" text-anchor="end" fill="#1e1e1e" stroke="#1e1e1e" stroke-width="0.2" textLength="6.8" lengthAdjust="spacingAndGlyphs">80</text>
<line x1="182.6" y1="192.5" x2="186" y2="192.5" stroke="#111" stroke-width="1"/>
<text x="179.2" y="195.23" font-size="6.8" text-anchor="end" fill="#1e1e1e" stroke="#1e1e1e" stroke-width="0.2" textLength="10.2" lengthAdjust="spacingAndGlyphs">100</text>
<line x1="182.6" y1="182.1" x2="186" y2="182.1" stroke="#111" stroke-width="1"/>
<text x="179.2" y="184.83" font-size="6.8" text-anchor="end" fill="#1e1e1e" stroke="#1e1e1e" stroke-width="0.2" textLength="10.2" lengthAdjust="spacingAndGlyphs">120</text>
<line x1="182.6" y1="171.7" x2="186" y2="171.7" stroke="#111" stroke-width="1"/>
<text x="179.2" y="174.43" font-size="6.8" text-anchor="end" fill="#1e1e1e" stroke="#1e1e1e" stroke-width="0.2" textLength="10.2" lengthAdjust="spacingAndGlyphs">140</text>
<line x1="202.5" y1="244.5" x2="202.5" y2="247.7" stroke="#111" stroke-width="1"/>
<line x1="234.85" y1="244.5" x2="234.85" y2="247.7" stroke="#111" stroke-width="1"/>
<line x1="267.2" y1="244.5" x2="267.2" y2="247.7" stroke="#111" stroke-width="1"/>
<line x1="283.4" y1="244.5" x2="283.4" y2="247.7" stroke="#111" stroke-width="1"/>
<path d="M189.9 165.1V162.4H255.7V165.1" fill="none" stroke="#3a3a3a" stroke-width="1.25"/>
<text x="222.8" y="162.9" font-size="6.4" text-anchor="middle" fill="#1a1a1a">***</text>
<path d="M222.4 173.3V170.6H255.7V173.3" fill="none" stroke="#3a3a3a" stroke-width="1.25"/>
<text x="239.05" y="169.2" font-size="5.2" text-anchor="middle" fill="#1e1e1e" stroke="#1e1e1e" stroke-width="0.04" textLength="7.6" lengthAdjust="spacingAndGlyphs">n.s.</text>
<path d="M189.9 178.9V176.2H222.4V178.9" fill="none" stroke="#3a3a3a" stroke-width="1.25"/>
<text x="206.15" y="176.7" font-size="6.4" text-anchor="middle" fill="#1a1a1a">***</text>
<path d="M261.5 173.3V170.6H273V173.3" fill="none" stroke="#3a3a3a" stroke-width="1.25"/>
<text x="267.25" y="169.2" font-size="5.2" text-anchor="middle" fill="#1e1e1e" stroke="#1e1e1e" stroke-width="0.04" textLength="7.6" lengthAdjust="spacingAndGlyphs">n.s.</text>
<path d="M267.3 165.3V162.6H278.9V165.3" fill="none" stroke="#3a3a3a" stroke-width="1.25"/>
<text x="273.1" y="161.2" font-size="5.2" text-anchor="middle" fill="#1e1e1e" stroke="#1e1e1e" stroke-width="0.04" textLength="7.6" lengthAdjust="spacingAndGlyphs">n.s.</text>
<text transform="translate(162.6 206) rotate(-90)" font-size="9.8" text-anchor="middle" fill="#1e1e1e" stroke="#1e1e1e" stroke-width="0.15" textLength="57.2" lengthAdjust="spacingAndGlyphs">IFN-γ (pg/ml)</text>
<rect x="335.9" y="227.12" width="4.4" height="17.38" fill="#a8002e" stroke="#8a0022" stroke-width="0.6"/>
<line x1="338.1" y1="226.82" x2="338.1" y2="225.78" stroke="#111" stroke-width="0.9"/>
<rect x="336.75" y="225.28" width="2.7" height="1.3" rx="0.4" fill="#111"/>
<rect x="341.85" y="226.6" width="4.4" height="17.9" fill="#2e4e80" stroke="#1c3868" stroke-width="0.6"/>
<line x1="344.05" y1="226.3" x2="344.05" y2="225.26" stroke="#111" stroke-width="0.9"/>
<rect x="342.7" y="224.76" width="2.7" height="1.3" rx="0.4" fill="#111"/>
<rect x="347.8" y="226.91" width="4.4" height="17.59" fill="#64a53c" stroke="#4a8428" stroke-width="0.6"/>
<line x1="350" y1="226.61" x2="350" y2="225.57" stroke="#111" stroke-width="0.9"/>
<rect x="348.65" y="225.07" width="2.7" height="1.3" rx="0.4" fill="#111"/>
<rect x="353.75" y="227.33" width="4.4" height="17.17" fill="#552869" stroke="#40185a" stroke-width="0.6"/>
<line x1="355.95" y1="227.03" x2="355.95" y2="226.2" stroke="#111" stroke-width="0.9"/>
<rect x="354.6" y="225.7" width="2.7" height="1.3" rx="0.4" fill="#111"/>
<rect x="359.7" y="228.68" width="4.4" height="15.82" fill="#da871e" stroke="#bf700e" stroke-width="0.6"/>
<line x1="361.9" y1="228.38" x2="361.9" y2="227.13" stroke="#111" stroke-width="0.9"/>
<rect x="360.55" y="226.63" width="2.7" height="1.3" rx="0.4" fill="#111"/>
<rect x="368.25" y="191.76" width="4.4" height="52.74" fill="#a8002e" stroke="#8a0022" stroke-width="0.6"/>
<line x1="370.45" y1="191.46" x2="370.45" y2="185.74" stroke="#111" stroke-width="0.9"/>
<rect x="369.1" y="185.24" width="2.7" height="1.3" rx="0.4" fill="#111"/>
<rect x="374.2" y="190.72" width="4.4" height="53.78" fill="#2e4e80" stroke="#1c3868" stroke-width="0.6"/>
<line x1="376.4" y1="190.42" x2="376.4" y2="185.22" stroke="#111" stroke-width="0.9"/>
<rect x="375.05" y="184.72" width="2.7" height="1.3" rx="0.4" fill="#111"/>
<rect x="380.15" y="189.16" width="4.4" height="55.34" fill="#64a53c" stroke="#4a8428" stroke-width="0.6"/>
<line x1="382.35" y1="188.86" x2="382.35" y2="181.06" stroke="#111" stroke-width="0.9"/>
<rect x="381" y="180.56" width="2.7" height="1.3" rx="0.4" fill="#111"/>
<rect x="386.1" y="195.09" width="4.4" height="49.41" fill="#552869" stroke="#40185a" stroke-width="0.6"/>
<line x1="388.3" y1="194.79" x2="388.3" y2="193.75" stroke="#111" stroke-width="0.9"/>
<rect x="386.95" y="193.25" width="2.7" height="1.3" rx="0.4" fill="#111"/>
<rect x="392.05" y="196.44" width="4.4" height="48.06" fill="#da871e" stroke="#bf700e" stroke-width="0.6"/>
<line x1="394.25" y1="196.14" x2="394.25" y2="194.89" stroke="#111" stroke-width="0.9"/>
<rect x="392.9" y="194.39" width="2.7" height="1.3" rx="0.4" fill="#111"/>
<rect x="400.6" y="188.43" width="4.4" height="56.07" fill="#a8002e" stroke="#8a0022" stroke-width="0.6"/>
<line x1="402.8" y1="188.13" x2="402.8" y2="186.26" stroke="#111" stroke-width="0.9"/>
<rect x="401.45" y="185.76" width="2.7" height="1.3" rx="0.4" fill="#111"/>
<rect x="406.55" y="188.74" width="4.4" height="55.76" fill="#2e4e80" stroke="#1c3868" stroke-width="0.6"/>
<line x1="408.75" y1="188.44" x2="408.75" y2="186.16" stroke="#111" stroke-width="0.9"/>
<rect x="407.4" y="185.66" width="2.7" height="1.3" rx="0.4" fill="#111"/>
<rect x="412.5" y="187.18" width="4.4" height="57.32" fill="#64a53c" stroke="#4a8428" stroke-width="0.6"/>
<line x1="414.7" y1="186.88" x2="414.7" y2="185.01" stroke="#111" stroke-width="0.9"/>
<rect x="413.35" y="184.51" width="2.7" height="1.3" rx="0.4" fill="#111"/>
<rect x="418.45" y="192.38" width="4.4" height="52.12" fill="#552869" stroke="#40185a" stroke-width="0.6"/>
<line x1="420.65" y1="192.08" x2="420.65" y2="190.84" stroke="#111" stroke-width="0.9"/>
<rect x="419.3" y="190.34" width="2.7" height="1.3" rx="0.4" fill="#111"/>
<rect x="424.4" y="200.08" width="4.4" height="44.42" fill="#da871e" stroke="#bf700e" stroke-width="0.6"/>
<line x1="426.6" y1="199.78" x2="426.6" y2="198.01" stroke="#111" stroke-width="0.9"/>
<rect x="425.25" y="197.51" width="2.7" height="1.3" rx="0.4" fill="#111"/>
<line x1="333.5" y1="168.8" x2="333.5" y2="245" stroke="#111" stroke-width="1.15"/>
<line x1="330.1" y1="244.5" x2="434" y2="244.5" stroke="#111" stroke-width="1.15"/>
<line x1="330.1" y1="244.5" x2="333.5" y2="244.5" stroke="#111" stroke-width="1"/>
<text x="326.4" y="247.23" font-size="6.8" text-anchor="end" fill="#1e1e1e" stroke="#1e1e1e" stroke-width="0.2" textLength="3.4" lengthAdjust="spacingAndGlyphs">0</text>
<line x1="330.1" y1="234.1" x2="333.5" y2="234.1" stroke="#111" stroke-width="1"/>
<text x="326.4" y="236.83" font-size="6.8" text-anchor="end" fill="#1e1e1e" stroke="#1e1e1e" stroke-width="0.2" textLength="10.2" lengthAdjust="spacingAndGlyphs">100</text>
<line x1="330.1" y1="223.7" x2="333.5" y2="223.7" stroke="#111" stroke-width="1"/>
<text x="326.4" y="226.43" font-size="6.8" text-anchor="end" fill="#1e1e1e" stroke="#1e1e1e" stroke-width="0.2" textLength="10.2" lengthAdjust="spacingAndGlyphs">200</text>
<line x1="330.1" y1="213.3" x2="333.5" y2="213.3" stroke="#111" stroke-width="1"/>
<text x="326.4" y="216.03" font-size="6.8" text-anchor="end" fill="#1e1e1e" stroke="#1e1e1e" stroke-width="0.2" textLength="10.2" lengthAdjust="spacingAndGlyphs">300</text>
<line x1="330.1" y1="202.9" x2="333.5" y2="202.9" stroke="#111" stroke-width="1"/>
<text x="326.4" y="205.63" font-size="6.8" text-anchor="end" fill="#1e1e1e" stroke="#1e1e1e" stroke-width="0.2" textLength="10.2" lengthAdjust="spacingAndGlyphs">400</text>
<line x1="330.1" y1="192.5" x2="333.5" y2="192.5" stroke="#111" stroke-width="1"/>
<text x="326.4" y="195.23" font-size="6.8" text-anchor="end" fill="#1e1e1e" stroke="#1e1e1e" stroke-width="0.2" textLength="10.2" lengthAdjust="spacingAndGlyphs">500</text>
<line x1="330.1" y1="182.1" x2="333.5" y2="182.1" stroke="#111" stroke-width="1"/>
<text x="326.4" y="184.83" font-size="6.8" text-anchor="end" fill="#1e1e1e" stroke="#1e1e1e" stroke-width="0.2" textLength="10.2" lengthAdjust="spacingAndGlyphs">600</text>
<line x1="330.1" y1="171.7" x2="333.5" y2="171.7" stroke="#111" stroke-width="1"/>
<text x="326.4" y="174.43" font-size="6.8" text-anchor="end" fill="#1e1e1e" stroke="#1e1e1e" stroke-width="0.2" textLength="10.2" lengthAdjust="spacingAndGlyphs">700</text>
<line x1="350" y1="244.5" x2="350" y2="247.7" stroke="#111" stroke-width="1"/>
<line x1="382.35" y1="244.5" x2="382.35" y2="247.7" stroke="#111" stroke-width="1"/>
<line x1="414.7" y1="244.5" x2="414.7" y2="247.7" stroke="#111" stroke-width="1"/>
<line x1="430.9" y1="244.5" x2="430.9" y2="247.7" stroke="#111" stroke-width="1"/>
<path d="M337.6 164.4V161.7H403.1V164.4" fill="none" stroke="#3a3a3a" stroke-width="1.25"/>
<text x="370.35" y="162.2" font-size="6.4" text-anchor="middle" fill="#1a1a1a">***</text>
<path d="M369.5 172.6V169.9H403.1V172.6" fill="none" stroke="#3a3a3a" stroke-width="1.25"/>
<text x="386.3" y="168.5" font-size="5.2" text-anchor="middle" fill="#1e1e1e" stroke="#1e1e1e" stroke-width="0.04" textLength="7.6" lengthAdjust="spacingAndGlyphs">n.s.</text>
<path d="M337.6 181.3V178.6H369.5V181.3" fill="none" stroke="#3a3a3a" stroke-width="1.25"/>
<text x="353.55" y="179.1" font-size="6.4" text-anchor="middle" fill="#1a1a1a">***</text>
<path d="M408.6 172.6V169.9H419.3V172.6" fill="none" stroke="#3a3a3a" stroke-width="1.25"/>
<text x="413.95" y="168.5" font-size="5.2" text-anchor="middle" fill="#1e1e1e" stroke="#1e1e1e" stroke-width="0.04" textLength="7.6" lengthAdjust="spacingAndGlyphs">n.s.</text>
<path d="M414.4 164.4V161.7H426.8V164.4" fill="none" stroke="#3a3a3a" stroke-width="1.25"/>
<text x="420.6" y="162.2" font-size="6.4" text-anchor="middle" fill="#1a1a1a">*</text>
<text transform="translate(308.6 206.6) rotate(-90)" font-size="9.8" text-anchor="middle" fill="#1e1e1e" stroke="#1e1e1e" stroke-width="0.15" textLength="56.9" lengthAdjust="spacingAndGlyphs">IFN-γ (pg/ml)</text>
<rect x="44.35" y="342.05" width="8.5" height="31.45" fill="#a8002e" stroke="#8a0022" stroke-width="0.6"/>
<line x1="48.6" y1="341.75" x2="48.6" y2="338.82" stroke="#111" stroke-width="0.9"/>
<rect x="47.2" y="338.32" width="2.8" height="1.3" rx="0.4" fill="#111"/>
<rect x="54.95" y="311.75" width="8.5" height="61.75" fill="#2e4e80" stroke="#1c3868" stroke-width="0.6"/>
<line x1="59.2" y1="311.45" x2="59.2" y2="306.7" stroke="#111" stroke-width="0.9"/>
<rect x="57.8" y="306.2" width="2.8" height="1.3" rx="0.4" fill="#111"/>
<rect x="71.4" y="343.87" width="8.5" height="29.63" fill="#a8002e" stroke="#8a0022" stroke-width="0.6"/>
<line x1="75.65" y1="343.57" x2="75.65" y2="339.92" stroke="#111" stroke-width="0.9"/>
<rect x="74.25" y="339.42" width="2.8" height="1.3" rx="0.4" fill="#111"/>
<rect x="82" y="330" width="8.5" height="43.5" fill="#2e4e80" stroke="#1c3868" stroke-width="0.6"/>
<line x1="86.25" y1="329.7" x2="86.25" y2="326.78" stroke="#111" stroke-width="0.9"/>
<rect x="84.85" y="326.28" width="2.8" height="1.3" rx="0.4" fill="#111"/>
<rect x="98.35" y="342.41" width="8.5" height="31.09" fill="#a8002e" stroke="#8a0022" stroke-width="0.6"/>
<line x1="102.6" y1="342.11" x2="102.6" y2="338.82" stroke="#111" stroke-width="0.9"/>
<rect x="101.2" y="338.32" width="2.8" height="1.3" rx="0.4" fill="#111"/>
<rect x="108.95" y="341.68" width="8.5" height="31.82" fill="#2e4e80" stroke="#1c3868" stroke-width="0.6"/>
<line x1="113.2" y1="341.38" x2="113.2" y2="337.73" stroke="#111" stroke-width="0.9"/>
<rect x="111.8" y="337.23" width="2.8" height="1.3" rx="0.4" fill="#111"/>
<line x1="40.2" y1="297.3" x2="40.2" y2="374" stroke="#111" stroke-width="1.15"/>
<line x1="36.8" y1="373.5" x2="124.2" y2="373.5" stroke="#111" stroke-width="1.15"/>
<line x1="36.8" y1="373.5" x2="40.2" y2="373.5" stroke="#111" stroke-width="1"/>
<text x="34.3" y="376.16" font-size="6.6" text-anchor="end" fill="#1e1e1e" stroke="#1e1e1e" stroke-width="0.2" textLength="3.4" lengthAdjust="spacingAndGlyphs">0</text>
<line x1="36.8" y1="355.25" x2="40.2" y2="355.25" stroke="#111" stroke-width="1"/>
<text x="34.3" y="357.91" font-size="6.6" text-anchor="end" fill="#1e1e1e" stroke="#1e1e1e" stroke-width="0.2" textLength="3.4" lengthAdjust="spacingAndGlyphs">5</text>
<line x1="36.8" y1="337" x2="40.2" y2="337" stroke="#111" stroke-width="1"/>
<text x="34.3" y="339.66" font-size="6.6" text-anchor="end" fill="#1e1e1e" stroke="#1e1e1e" stroke-width="0.2" textLength="6.8" lengthAdjust="spacingAndGlyphs">10</text>
<line x1="36.8" y1="318.75" x2="40.2" y2="318.75" stroke="#111" stroke-width="1"/>
<text x="34.3" y="321.41" font-size="6.6" text-anchor="end" fill="#1e1e1e" stroke="#1e1e1e" stroke-width="0.2" textLength="6.8" lengthAdjust="spacingAndGlyphs">15</text>
<line x1="36.8" y1="300.5" x2="40.2" y2="300.5" stroke="#111" stroke-width="1"/>
<text x="34.3" y="303.16" font-size="6.6" text-anchor="end" fill="#1e1e1e" stroke="#1e1e1e" stroke-width="0.2" textLength="6.8" lengthAdjust="spacingAndGlyphs">20</text>
<line x1="53.9" y1="373.5" x2="53.9" y2="376.7" stroke="#111" stroke-width="1"/>
<line x1="80.95" y1="373.5" x2="80.95" y2="376.7" stroke="#111" stroke-width="1"/>
<line x1="107.9" y1="373.5" x2="107.9" y2="376.7" stroke="#111" stroke-width="1"/>
<line x1="121.5" y1="373.5" x2="121.5" y2="376.7" stroke="#111" stroke-width="1"/>
<path d="M47.8 300.4V297.7H59.4V300.4" fill="none" stroke="#3a3a3a" stroke-width="1.25"/>
<text x="53.6" y="298.2" font-size="6.4" text-anchor="middle" fill="#1a1a1a">**</text>
<path d="M74.5 318.9V316.2H86.6V318.9" fill="none" stroke="#3a3a3a" stroke-width="1.25"/>
<text x="80.55" y="314.8" font-size="5.2" text-anchor="middle" fill="#1e1e1e" stroke="#1e1e1e" stroke-width="0.04" textLength="7.6" lengthAdjust="spacingAndGlyphs">n.s.</text>
<path d="M101.6 328.9V326.2H113.6V328.9" fill="none" stroke="#3a3a3a" stroke-width="1.25"/>
<text x="107.6" y="324.8" font-size="5.2" text-anchor="middle" fill="#1e1e1e" stroke="#1e1e1e" stroke-width="0.04" textLength="7.6" lengthAdjust="spacingAndGlyphs">n.s.</text>
<text transform="translate(20.9 335.2) rotate(-90)" font-size="9.8" text-anchor="middle" fill="#1e1e1e" stroke="#1e1e1e" stroke-width="0.15" textLength="74.4" lengthAdjust="spacingAndGlyphs">CD4<tspan font-size="5.2" dy="-4.0">+</tspan><tspan dy="4.0"> Foxp3</tspan><tspan font-size="5.2" dy="-4.0">+</tspan><tspan dy="4.0"> T cells</tspan></text>
<rect x="189.85" y="351.76" width="8.5" height="21.54" fill="#a8002e" stroke="#8a0022" stroke-width="0.6"/>
<line x1="194.1" y1="351.46" x2="194.1" y2="350.25" stroke="#111" stroke-width="0.9"/>
<rect x="192.7" y="349.75" width="2.8" height="1.3" rx="0.4" fill="#111"/>
<rect x="200.45" y="317.18" width="8.5" height="56.12" fill="#2e4e80" stroke="#1c3868" stroke-width="0.6"/>
<line x1="204.7" y1="316.88" x2="204.7" y2="308.99" stroke="#111" stroke-width="0.9"/>
<rect x="203.3" y="308.49" width="2.8" height="1.3" rx="0.4" fill="#111"/>
<rect x="216.9" y="357.83" width="8.5" height="15.47" fill="#a8002e" stroke="#8a0022" stroke-width="0.6"/>
<line x1="221.15" y1="357.53" x2="221.15" y2="356.92" stroke="#111" stroke-width="0.9"/>
<rect x="219.75" y="356.42" width="2.8" height="1.3" rx="0.4" fill="#111"/>
<rect x="227.5" y="345.69" width="8.5" height="27.61" fill="#2e4e80" stroke="#1c3868" stroke-width="0.6"/>
<line x1="231.75" y1="345.39" x2="231.75" y2="343.57" stroke="#111" stroke-width="0.9"/>
<rect x="230.35" y="343.07" width="2.8" height="1.3" rx="0.4" fill="#111"/>
<rect x="243.85" y="360.25" width="8.5" height="13.05" fill="#a8002e" stroke="#8a0022" stroke-width="0.6"/>
<line x1="248.1" y1="359.95" x2="248.1" y2="359.35" stroke="#111" stroke-width="0.9"/>
<rect x="246.7" y="358.85" width="2.8" height="1.3" rx="0.4" fill="#111"/>
<rect x="254.45" y="360.25" width="8.5" height="13.05" fill="#2e4e80" stroke="#1c3868" stroke-width="0.6"/>
<line x1="258.7" y1="359.95" x2="258.7" y2="358.74" stroke="#111" stroke-width="0.9"/>
<rect x="257.3" y="358.24" width="2.8" height="1.3" rx="0.4" fill="#111"/>
<line x1="185.7" y1="297.3" x2="185.7" y2="373.8" stroke="#111" stroke-width="1.15"/>
<line x1="182.3" y1="373.3" x2="269.7" y2="373.3" stroke="#111" stroke-width="1.15"/>
<line x1="182.3" y1="373.3" x2="185.7" y2="373.3" stroke="#111" stroke-width="1"/>
<text x="179.1" y="375.96" font-size="6.6" text-anchor="end" fill="#1e1e1e" stroke="#1e1e1e" stroke-width="0.2" textLength="3.4" lengthAdjust="spacingAndGlyphs">0</text>
<line x1="182.3" y1="361.17" x2="185.7" y2="361.17" stroke="#111" stroke-width="1"/>
<text x="179.1" y="363.83" font-size="6.6" text-anchor="end" fill="#1e1e1e" stroke="#1e1e1e" stroke-width="0.2" textLength="3.4" lengthAdjust="spacingAndGlyphs">1</text>
<line x1="182.3" y1="349.03" x2="185.7" y2="349.03" stroke="#111" stroke-width="1"/>
<text x="179.1" y="351.69" font-size="6.6" text-anchor="end" fill="#1e1e1e" stroke="#1e1e1e" stroke-width="0.2" textLength="3.4" lengthAdjust="spacingAndGlyphs">2</text>
<line x1="182.3" y1="336.9" x2="185.7" y2="336.9" stroke="#111" stroke-width="1"/>
<text x="179.1" y="339.56" font-size="6.6" text-anchor="end" fill="#1e1e1e" stroke="#1e1e1e" stroke-width="0.2" textLength="3.4" lengthAdjust="spacingAndGlyphs">3</text>
<line x1="182.3" y1="324.77" x2="185.7" y2="324.77" stroke="#111" stroke-width="1"/>
<text x="179.1" y="327.43" font-size="6.6" text-anchor="end" fill="#1e1e1e" stroke="#1e1e1e" stroke-width="0.2" textLength="3.4" lengthAdjust="spacingAndGlyphs">4</text>
<line x1="182.3" y1="312.63" x2="185.7" y2="312.63" stroke="#111" stroke-width="1"/>
<text x="179.1" y="315.29" font-size="6.6" text-anchor="end" fill="#1e1e1e" stroke="#1e1e1e" stroke-width="0.2" textLength="3.4" lengthAdjust="spacingAndGlyphs">5</text>
<line x1="182.3" y1="300.5" x2="185.7" y2="300.5" stroke="#111" stroke-width="1"/>
<text x="179.1" y="303.16" font-size="6.6" text-anchor="end" fill="#1e1e1e" stroke="#1e1e1e" stroke-width="0.2" textLength="3.4" lengthAdjust="spacingAndGlyphs">6</text>
<line x1="199.4" y1="373.3" x2="199.4" y2="376.5" stroke="#111" stroke-width="1"/>
<line x1="226.45" y1="373.3" x2="226.45" y2="376.5" stroke="#111" stroke-width="1"/>
<line x1="253.4" y1="373.3" x2="253.4" y2="376.5" stroke="#111" stroke-width="1"/>
<line x1="267" y1="373.3" x2="267" y2="376.5" stroke="#111" stroke-width="1"/>
<path d="M193.6 300V297.3H204.9V300" fill="none" stroke="#3a3a3a" stroke-width="1.25"/>
<text x="199.25" y="297.8" font-size="6.4" text-anchor="middle" fill="#1a1a1a">***</text>
<path d="M220.5 330.9V328.2H231.7V330.9" fill="none" stroke="#3a3a3a" stroke-width="1.25"/>
<text x="226.1" y="326.8" font-size="5.2" text-anchor="middle" fill="#1e1e1e" stroke="#1e1e1e" stroke-width="0.04" textLength="7.6" lengthAdjust="spacingAndGlyphs">n.s.</text>
<path d="M248 348.3V345.6H259V348.3" fill="none" stroke="#3a3a3a" stroke-width="1.25"/>
<text x="253.5" y="344.2" font-size="5.2" text-anchor="middle" fill="#1e1e1e" stroke="#1e1e1e" stroke-width="0.04" textLength="7.6" lengthAdjust="spacingAndGlyphs">n.s.</text>
<text transform="translate(170 334.9) rotate(-90)" font-size="9.8" text-anchor="middle" fill="#1e1e1e" stroke="#1e1e1e" stroke-width="0.15" textLength="68.7" lengthAdjust="spacingAndGlyphs">CD4<tspan font-size="5.2" dy="-4.0">+</tspan><tspan dy="4.0"> IL10</tspan><tspan font-size="5.2" dy="-4.0">+</tspan><tspan dy="4.0"> T cells</tspan></text>
<rect x="337.85" y="336.28" width="8.5" height="37.02" fill="#a8002e" stroke="#8a0022" stroke-width="0.6"/>
<line x1="342.1" y1="335.98" x2="342.1" y2="330.73" stroke="#111" stroke-width="0.9"/>
<rect x="340.7" y="330.23" width="2.8" height="1.3" rx="0.4" fill="#111"/>
<rect x="348.45" y="308.57" width="8.5" height="64.73" fill="#2e4e80" stroke="#1c3868" stroke-width="0.6"/>
<line x1="352.7" y1="308.27" x2="352.7" y2="303.9" stroke="#111" stroke-width="0.9"/>
<rect x="351.3" y="303.4" width="2.8" height="1.3" rx="0.4" fill="#111"/>
<rect x="364.9" y="343.86" width="8.5" height="29.44" fill="#a8002e" stroke="#8a0022" stroke-width="0.6"/>
<line x1="369.15" y1="343.56" x2="369.15" y2="342.68" stroke="#111" stroke-width="0.9"/>
<rect x="367.75" y="342.18" width="2.8" height="1.3" rx="0.4" fill="#111"/>
<rect x="375.5" y="330.73" width="8.5" height="42.57" fill="#2e4e80" stroke="#1c3868" stroke-width="0.6"/>
<line x1="379.75" y1="330.43" x2="379.75" y2="328.1" stroke="#111" stroke-width="0.9"/>
<rect x="378.35" y="327.6" width="2.8" height="1.3" rx="0.4" fill="#111"/>
<rect x="391.85" y="345.31" width="8.5" height="27.99" fill="#a8002e" stroke="#8a0022" stroke-width="0.6"/>
<line x1="396.1" y1="345.01" x2="396.1" y2="342.97" stroke="#111" stroke-width="0.9"/>
<rect x="394.7" y="342.47" width="2.8" height="1.3" rx="0.4" fill="#111"/>
<rect x="402.45" y="345.9" width="8.5" height="27.4" fill="#2e4e80" stroke="#1c3868" stroke-width="0.6"/>
<line x1="406.7" y1="345.6" x2="406.7" y2="341.81" stroke="#111" stroke-width="0.9"/>
<rect x="405.3" y="341.31" width="2.8" height="1.3" rx="0.4" fill="#111"/>
<line x1="333.7" y1="297.2" x2="333.7" y2="373.8" stroke="#111" stroke-width="1.15"/>
<line x1="330.3" y1="373.3" x2="417.7" y2="373.3" stroke="#111" stroke-width="1.15"/>
<line x1="330.3" y1="373.3" x2="333.7" y2="373.3" stroke="#111" stroke-width="1"/>
<text x="327.3" y="375.96" font-size="6.6" text-anchor="end" fill="#1e1e1e" stroke="#1e1e1e" stroke-width="0.2" textLength="3.4" lengthAdjust="spacingAndGlyphs">0</text>
<line x1="330.3" y1="358.72" x2="333.7" y2="358.72" stroke="#111" stroke-width="1"/>
<text x="327.3" y="361.38" font-size="6.6" text-anchor="end" fill="#1e1e1e" stroke="#1e1e1e" stroke-width="0.2" textLength="8.8" lengthAdjust="spacingAndGlyphs">0.5</text>
<line x1="330.3" y1="344.14" x2="333.7" y2="344.14" stroke="#111" stroke-width="1"/>
<text x="327.3" y="346.8" font-size="6.6" text-anchor="end" fill="#1e1e1e" stroke="#1e1e1e" stroke-width="0.2" textLength="3.4" lengthAdjust="spacingAndGlyphs">1</text>
<line x1="330.3" y1="329.56" x2="333.7" y2="329.56" stroke="#111" stroke-width="1"/>
<text x="327.3" y="332.22" font-size="6.6" text-anchor="end" fill="#1e1e1e" stroke="#1e1e1e" stroke-width="0.2" textLength="8.8" lengthAdjust="spacingAndGlyphs">1.5</text>
<line x1="330.3" y1="314.98" x2="333.7" y2="314.98" stroke="#111" stroke-width="1"/>
<text x="327.3" y="317.64" font-size="6.6" text-anchor="end" fill="#1e1e1e" stroke="#1e1e1e" stroke-width="0.2" textLength="3.4" lengthAdjust="spacingAndGlyphs">2</text>
<line x1="330.3" y1="300.4" x2="333.7" y2="300.4" stroke="#111" stroke-width="1"/>
<text x="327.3" y="303.06" font-size="6.6" text-anchor="end" fill="#1e1e1e" stroke="#1e1e1e" stroke-width="0.2" textLength="8.8" lengthAdjust="spacingAndGlyphs">2.5</text>
<line x1="347.4" y1="373.3" x2="347.4" y2="376.5" stroke="#111" stroke-width="1"/>
<line x1="374.45" y1="373.3" x2="374.45" y2="376.5" stroke="#111" stroke-width="1"/>
<line x1="401.4" y1="373.3" x2="401.4" y2="376.5" stroke="#111" stroke-width="1"/>
<line x1="415" y1="373.3" x2="415" y2="376.5" stroke="#111" stroke-width="1"/>
<path d="M341.6 300V297.3H353.6V300" fill="none" stroke="#3a3a3a" stroke-width="1.25"/>
<text x="347.6" y="297.8" font-size="6.4" text-anchor="middle" fill="#1a1a1a">**</text>
<path d="M368.8 318.9V316.2H380.6V318.9" fill="none" stroke="#3a3a3a" stroke-width="1.25"/>
<text x="374.7" y="314.8" font-size="5.2" text-anchor="middle" fill="#1e1e1e" stroke="#1e1e1e" stroke-width="0.04" textLength="7.6" lengthAdjust="spacingAndGlyphs">n.s.</text>
<path d="M395.9 332.1V329.4H407.7V332.1" fill="none" stroke="#3a3a3a" stroke-width="1.25"/>
<text x="401.8" y="328" font-size="5.2" text-anchor="middle" fill="#1e1e1e" stroke="#1e1e1e" stroke-width="0.04" textLength="7.6" lengthAdjust="spacingAndGlyphs">n.s.</text>
<text transform="translate(312.3 336.4) rotate(-90)" font-size="9.8" text-anchor="middle" fill="#1e1e1e" stroke="#1e1e1e" stroke-width="0.15" textLength="63" lengthAdjust="spacingAndGlyphs">CD4<tspan font-size="5.2" dy="-4.0">+</tspan><tspan dy="4.0"> IL4</tspan><tspan font-size="5.2" dy="-4.0">+</tspan><tspan dy="4.0"> T cells</tspan></text>
<text x="57" y="117.2" font-size="6.6" text-anchor="middle" fill="#1e1e1e" stroke="#1e1e1e" stroke-width="0.2">CD4<tspan font-size="4.2" dx="0.2" dy="-2.9">+</tspan><tspan dx="0.1" dy="2.9"> T</tspan></text>
<text x="89.35" y="117.2" font-size="6.6" text-anchor="middle" fill="#1e1e1e" stroke="#1e1e1e" stroke-width="0.2">CD4<tspan font-size="4.2" dx="0.2" dy="-2.9">+</tspan><tspan dx="0.1" dy="2.9"> T +</tspan></text>
<text x="121.7" y="117.2" font-size="6.6" text-anchor="middle" fill="#1e1e1e" stroke="#1e1e1e" stroke-width="0.2">CD4<tspan font-size="4.2" dx="0.2" dy="-2.9">+</tspan><tspan dx="0.1" dy="2.9"> T +</tspan></text>
<text x="89.35" y="125.1" font-size="6.6" text-anchor="middle" fill="#1e1e1e" stroke="#1e1e1e" stroke-width="0.2">Control</text>
<text x="121.7" y="125.1" font-size="6.6" text-anchor="middle" fill="#1e1e1e" stroke="#1e1e1e" stroke-width="0.2">NICD1</text>
<text x="89.65" y="132.8" font-size="6.6" text-anchor="middle" fill="#1e1e1e" stroke="#1e1e1e" stroke-width="0.2" textLength="19.6" lengthAdjust="spacingAndGlyphs">RFP<tspan font-size="4.2" dx="0.2" dy="-2.9">+</tspan><tspan dx="0.1" dy="2.9"> B</tspan></text>
<text x="122" y="132.8" font-size="6.6" text-anchor="middle" fill="#1e1e1e" stroke="#1e1e1e" stroke-width="0.2" textLength="19.6" lengthAdjust="spacingAndGlyphs">RFP<tspan font-size="4.2" dx="0.2" dy="-2.9">+</tspan><tspan dx="0.1" dy="2.9"> B</tspan></text>
<text x="202" y="117.2" font-size="6.6" text-anchor="middle" fill="#1e1e1e" stroke="#1e1e1e" stroke-width="0.2">CD4<tspan font-size="4.2" dx="0.2" dy="-2.9">+</tspan><tspan dx="0.1" dy="2.9"> T</tspan></text>
<text x="234.35" y="117.2" font-size="6.6" text-anchor="middle" fill="#1e1e1e" stroke="#1e1e1e" stroke-width="0.2">CD4<tspan font-size="4.2" dx="0.2" dy="-2.9">+</tspan><tspan dx="0.1" dy="2.9"> T +</tspan></text>
<text x="266.7" y="117.2" font-size="6.6" text-anchor="middle" fill="#1e1e1e" stroke="#1e1e1e" stroke-width="0.2">CD4<tspan font-size="4.2" dx="0.2" dy="-2.9">+</tspan><tspan dx="0.1" dy="2.9"> T +</tspan></text>
<text x="234.35" y="125.1" font-size="6.6" text-anchor="middle" fill="#1e1e1e" stroke="#1e1e1e" stroke-width="0.2">Control</text>
<text x="266.7" y="125.1" font-size="6.6" text-anchor="middle" fill="#1e1e1e" stroke="#1e1e1e" stroke-width="0.2">NICD1</text>
<text x="234.65" y="132.8" font-size="6.6" text-anchor="middle" fill="#1e1e1e" stroke="#1e1e1e" stroke-width="0.2" textLength="19.6" lengthAdjust="spacingAndGlyphs">RFP<tspan font-size="4.2" dx="0.2" dy="-2.9">+</tspan><tspan dx="0.1" dy="2.9"> B</tspan></text>
<text x="267" y="132.8" font-size="6.6" text-anchor="middle" fill="#1e1e1e" stroke="#1e1e1e" stroke-width="0.2" textLength="19.6" lengthAdjust="spacingAndGlyphs">RFP<tspan font-size="4.2" dx="0.2" dy="-2.9">+</tspan><tspan dx="0.1" dy="2.9"> B</tspan></text>
<text x="350" y="117.2" font-size="6.6" text-anchor="middle" fill="#1e1e1e" stroke="#1e1e1e" stroke-width="0.2">CD4<tspan font-size="4.2" dx="0.2" dy="-2.9">+</tspan><tspan dx="0.1" dy="2.9"> T</tspan></text>
<text x="382.35" y="117.2" font-size="6.6" text-anchor="middle" fill="#1e1e1e" stroke="#1e1e1e" stroke-width="0.2">CD4<tspan font-size="4.2" dx="0.2" dy="-2.9">+</tspan><tspan dx="0.1" dy="2.9"> T +</tspan></text>
<text x="414.7" y="117.2" font-size="6.6" text-anchor="middle" fill="#1e1e1e" stroke="#1e1e1e" stroke-width="0.2">CD4<tspan font-size="4.2" dx="0.2" dy="-2.9">+</tspan><tspan dx="0.1" dy="2.9"> T +</tspan></text>
<text x="382.35" y="125.1" font-size="6.6" text-anchor="middle" fill="#1e1e1e" stroke="#1e1e1e" stroke-width="0.2">Control</text>
<text x="414.7" y="125.1" font-size="6.6" text-anchor="middle" fill="#1e1e1e" stroke="#1e1e1e" stroke-width="0.2">NICD1</text>
<text x="382.65" y="132.8" font-size="6.6" text-anchor="middle" fill="#1e1e1e" stroke="#1e1e1e" stroke-width="0.2" textLength="19.6" lengthAdjust="spacingAndGlyphs">RFP<tspan font-size="4.2" dx="0.2" dy="-2.9">+</tspan><tspan dx="0.1" dy="2.9"> B</tspan></text>
<text x="415" y="132.8" font-size="6.6" text-anchor="middle" fill="#1e1e1e" stroke="#1e1e1e" stroke-width="0.2" textLength="19.6" lengthAdjust="spacingAndGlyphs">RFP<tspan font-size="4.2" dx="0.2" dy="-2.9">+</tspan><tspan dx="0.1" dy="2.9"> B</tspan></text>
<text x="57" y="257.2" font-size="6.6" text-anchor="middle" fill="#1e1e1e" stroke="#1e1e1e" stroke-width="0.2">CD4<tspan font-size="4.2" dx="0.2" dy="-2.9">+</tspan><tspan dx="0.1" dy="2.9"> T</tspan></text>
<text x="89.35" y="257.2" font-size="6.6" text-anchor="middle" fill="#1e1e1e" stroke="#1e1e1e" stroke-width="0.2">CD4<tspan font-size="4.2" dx="0.2" dy="-2.9">+</tspan><tspan dx="0.1" dy="2.9"> T +</tspan></text>
<text x="121.7" y="257.2" font-size="6.6" text-anchor="middle" fill="#1e1e1e" stroke="#1e1e1e" stroke-width="0.2">CD4<tspan font-size="4.2" dx="0.2" dy="-2.9">+</tspan><tspan dx="0.1" dy="2.9"> T +</tspan></text>
<text x="89.35" y="265.1" font-size="6.6" text-anchor="middle" fill="#1e1e1e" stroke="#1e1e1e" stroke-width="0.2">Control</text>
<text x="121.7" y="265.1" font-size="6.6" text-anchor="middle" fill="#1e1e1e" stroke="#1e1e1e" stroke-width="0.2">NICD1</text>
<text x="89.65" y="272.8" font-size="6.6" text-anchor="middle" fill="#1e1e1e" stroke="#1e1e1e" stroke-width="0.2" textLength="19.6" lengthAdjust="spacingAndGlyphs">RFP<tspan font-size="4.2" dx="0.2" dy="-2.9">+</tspan><tspan dx="0.1" dy="2.9"> B</tspan></text>
<text x="122" y="272.8" font-size="6.6" text-anchor="middle" fill="#1e1e1e" stroke="#1e1e1e" stroke-width="0.2" textLength="19.6" lengthAdjust="spacingAndGlyphs">RFP<tspan font-size="4.2" dx="0.2" dy="-2.9">+</tspan><tspan dx="0.1" dy="2.9"> B</tspan></text>
<text x="202.5" y="257.2" font-size="6.6" text-anchor="middle" fill="#1e1e1e" stroke="#1e1e1e" stroke-width="0.2">CD4<tspan font-size="4.2" dx="0.2" dy="-2.9">+</tspan><tspan dx="0.1" dy="2.9"> T</tspan></text>
<text x="234.85" y="257.2" font-size="6.6" text-anchor="middle" fill="#1e1e1e" stroke="#1e1e1e" stroke-width="0.2">CD4<tspan font-size="4.2" dx="0.2" dy="-2.9">+</tspan><tspan dx="0.1" dy="2.9"> T +</tspan></text>
<text x="267.2" y="257.2" font-size="6.6" text-anchor="middle" fill="#1e1e1e" stroke="#1e1e1e" stroke-width="0.2">CD4<tspan font-size="4.2" dx="0.2" dy="-2.9">+</tspan><tspan dx="0.1" dy="2.9"> T +</tspan></text>
<text x="234.85" y="265.1" font-size="6.6" text-anchor="middle" fill="#1e1e1e" stroke="#1e1e1e" stroke-width="0.2">Control</text>
<text x="267.2" y="265.1" font-size="6.6" text-anchor="middle" fill="#1e1e1e" stroke="#1e1e1e" stroke-width="0.2">NICD1</text>
<text x="235.15" y="272.8" font-size="6.6" text-anchor="middle" fill="#1e1e1e" stroke="#1e1e1e" stroke-width="0.2" textLength="19.6" lengthAdjust="spacingAndGlyphs">RFP<tspan font-size="4.2" dx="0.2" dy="-2.9">+</tspan><tspan dx="0.1" dy="2.9"> B</tspan></text>
<text x="267.5" y="272.8" font-size="6.6" text-anchor="middle" fill="#1e1e1e" stroke="#1e1e1e" stroke-width="0.2" textLength="19.6" lengthAdjust="spacingAndGlyphs">RFP<tspan font-size="4.2" dx="0.2" dy="-2.9">+</tspan><tspan dx="0.1" dy="2.9"> B</tspan></text>
<text x="350" y="257.2" font-size="6.6" text-anchor="middle" fill="#1e1e1e" stroke="#1e1e1e" stroke-width="0.2">CD8<tspan font-size="4.2" dx="0.2" dy="-2.9">+</tspan><tspan dx="0.1" dy="2.9"> T</tspan></text>
<text x="382.35" y="257.2" font-size="6.6" text-anchor="middle" fill="#1e1e1e" stroke="#1e1e1e" stroke-width="0.2">CD8<tspan font-size="4.2" dx="0.2" dy="-2.9">+</tspan><tspan dx="0.1" dy="2.9"> T +</tspan></text>
<text x="414.7" y="257.2" font-size="6.6" text-anchor="middle" fill="#1e1e1e" stroke="#1e1e1e" stroke-width="0.2">CD8<tspan font-size="4.2" dx="0.2" dy="-2.9">+</tspan><tspan dx="0.1" dy="2.9"> T +</tspan></text>
<text x="382.35" y="265.1" font-size="6.6" text-anchor="middle" fill="#1e1e1e" stroke="#1e1e1e" stroke-width="0.2">Control</text>
<text x="414.7" y="265.1" font-size="6.6" text-anchor="middle" fill="#1e1e1e" stroke="#1e1e1e" stroke-width="0.2">NICD1</text>
<text x="382.65" y="272.8" font-size="6.6" text-anchor="middle" fill="#1e1e1e" stroke="#1e1e1e" stroke-width="0.2" textLength="19.6" lengthAdjust="spacingAndGlyphs">RFP<tspan font-size="4.2" dx="0.2" dy="-2.9">+</tspan><tspan dx="0.1" dy="2.9"> B</tspan></text>
<text x="415" y="272.8" font-size="6.6" text-anchor="middle" fill="#1e1e1e" stroke="#1e1e1e" stroke-width="0.2" textLength="19.6" lengthAdjust="spacingAndGlyphs">RFP<tspan font-size="4.2" dx="0.2" dy="-2.9">+</tspan><tspan dx="0.1" dy="2.9"> B</tspan></text>
<g transform="translate(37 403.3) rotate(-45)" fill="#1e1e1e" stroke="#1e1e1e" stroke-width="0.18"><text x="0" y="0" font-size="7.2" textLength="12.0" lengthAdjust="spacingAndGlyphs">IL33</text><text x="12.6" y="-3.4" font-size="4.4" stroke-width="0.14" textLength="12.6" lengthAdjust="spacingAndGlyphs">WT/WT</text></g>
<g transform="translate(64 403.3) rotate(-45)" fill="#1e1e1e" stroke="#1e1e1e" stroke-width="0.18"><text x="0" y="0" font-size="7.2" textLength="12.0" lengthAdjust="spacingAndGlyphs">IL33</text><text x="12.6" y="-3.4" font-size="4.4" stroke-width="0.14" textLength="11.4" lengthAdjust="spacingAndGlyphs">KO/WT</text></g>
<g transform="translate(91 403.3) rotate(-45)" fill="#1e1e1e" stroke="#1e1e1e" stroke-width="0.18"><text x="0" y="0" font-size="7.2" textLength="12.0" lengthAdjust="spacingAndGlyphs">IL33</text><text x="12.6" y="-3.4" font-size="4.4" stroke-width="0.14" textLength="11.4" lengthAdjust="spacingAndGlyphs">KO/KO</text></g>
<g transform="translate(184.2 403.1) rotate(-45)" fill="#1e1e1e" stroke="#1e1e1e" stroke-width="0.18"><text x="0" y="0" font-size="7.2" textLength="12.0" lengthAdjust="spacingAndGlyphs">IL33</text><text x="12.6" y="-3.4" font-size="4.4" stroke-width="0.14" textLength="12.6" lengthAdjust="spacingAndGlyphs">WT/WT</text></g>
<g transform="translate(211.2 403.1) rotate(-45)" fill="#1e1e1e" stroke="#1e1e1e" stroke-width="0.18"><text x="0" y="0" font-size="7.2" textLength="12.0" lengthAdjust="spacingAndGlyphs">IL33</text><text x="12.6" y="-3.4" font-size="4.4" stroke-width="0.14" textLength="11.4" lengthAdjust="spacingAndGlyphs">KO/WT</text></g>
<g transform="translate(238.2 403.1) rotate(-45)" fill="#1e1e1e" stroke="#1e1e1e" stroke-width="0.18"><text x="0" y="0" font-size="7.2" textLength="12.0" lengthAdjust="spacingAndGlyphs">IL33</text><text x="12.6" y="-3.4" font-size="4.4" stroke-width="0.14" textLength="11.4" lengthAdjust="spacingAndGlyphs">KO/KO</text></g>
<g transform="translate(332.9 401.3) rotate(-45)" fill="#1e1e1e" stroke="#1e1e1e" stroke-width="0.18"><text x="0" y="0" font-size="7.2" textLength="12.0" lengthAdjust="spacingAndGlyphs">IL33</text><text x="12.6" y="-3.4" font-size="4.4" stroke-width="0.14" textLength="12.6" lengthAdjust="spacingAndGlyphs">WT/WT</text></g>
<g transform="translate(359.9 401.3) rotate(-45)" fill="#1e1e1e" stroke="#1e1e1e" stroke-width="0.18"><text x="0" y="0" font-size="7.2" textLength="12.0" lengthAdjust="spacingAndGlyphs">IL33</text><text x="12.6" y="-3.4" font-size="4.4" stroke-width="0.14" textLength="11.4" lengthAdjust="spacingAndGlyphs">KO/WT</text></g>
<g transform="translate(386.9 401.3) rotate(-45)" fill="#1e1e1e" stroke="#1e1e1e" stroke-width="0.18"><text x="0" y="0" font-size="7.2" textLength="12.0" lengthAdjust="spacingAndGlyphs">IL33</text><text x="12.6" y="-3.4" font-size="4.4" stroke-width="0.14" textLength="11.4" lengthAdjust="spacingAndGlyphs">KO/KO</text></g>
<text x="22.9" y="293.9" font-size="7.3" text-anchor="middle" fill="#555">%</text>
<text x="172" y="293.6" font-size="7.3" text-anchor="middle" fill="#555">%</text>
<text x="315" y="293.3" font-size="7.3" text-anchor="middle" fill="#555">%</text>
<text x="9.1" y="18" font-size="11.5" text-anchor="start" fill="#111" stroke="#111" stroke-width="0.15" textLength="6.8" lengthAdjust="spacingAndGlyphs">A</text>
<text x="301.1" y="157.8" font-size="12.8" text-anchor="start" fill="#111" stroke="#111" stroke-width="0.15" textLength="7.4" lengthAdjust="spacingAndGlyphs">B</text>
<text x="8.3" y="288.8" font-size="12.8" text-anchor="start" fill="#111" stroke="#111" stroke-width="0.15" textLength="8.4" lengthAdjust="spacingAndGlyphs">C</text>
<rect x="443.2" y="177.1" width="3.3" height="3.3" fill="#a8002e"/>
<text x="449.8" y="180.7" font-size="5.5" text-anchor="start" fill="#1e1e1e" stroke="#1e1e1e" stroke-width="0.15">Medium</text>
<rect x="443.2" y="186.6" width="3.3" height="3.3" fill="#2e4e80"/>
<text x="449.8" y="190.2" font-size="5.5" text-anchor="start" fill="#1e1e1e" stroke="#1e1e1e" stroke-width="0.15">Isotype control</text>
<text x="449.8" y="196.8" font-size="5.5" text-anchor="start" fill="#1e1e1e" stroke="#1e1e1e" stroke-width="0.15">(1 μg/ml)</text>
<rect x="443.2" y="203.1" width="3.3" height="3.3" fill="#64a53c"/>
<text x="449.8" y="206.7" font-size="5.5" text-anchor="start" fill="#1e1e1e" stroke="#1e1e1e" stroke-width="0.15">Isotype control (10 μg/ml)</text>
<rect x="443.2" y="212.4" width="3.3" height="3.3" fill="#552869"/>
<text x="449.8" y="216" font-size="5.5" text-anchor="start" fill="#1e1e1e" stroke="#1e1e1e" stroke-width="0.15">ST2 blocking antibody</text>
<text x="449.8" y="222.6" font-size="5.5" text-anchor="start" fill="#1e1e1e" stroke="#1e1e1e" stroke-width="0.15">(1 μg/ml)</text>
<rect x="443.2" y="228.2" width="3.3" height="3.3" fill="#da871e"/>
<text x="449.8" y="231.8" font-size="5.5" text-anchor="start" fill="#1e1e1e" stroke="#1e1e1e" stroke-width="0.15">ST2 blocking antibody</text>
<text x="449.8" y="238.4" font-size="5.5" text-anchor="start" fill="#1e1e1e" stroke="#1e1e1e" stroke-width="0.15">(10 μg/ml)</text>
<rect x="427.1" y="328.4" width="3.9" height="3.7" fill="#a8002e"/>
<rect x="427.1" y="338.2" width="3.9" height="3.6" fill="#2e4e80"/>
<text x="443.1" y="332.2" font-size="5.5" text-anchor="middle" fill="#1e1e1e" stroke="#1e1e1e" stroke-width="0.15">Control</text>
<text x="443.2" y="341.9" font-size="5.5" text-anchor="middle" fill="#1e1e1e" stroke="#1e1e1e" stroke-width="0.15">NICD1</text>
<rect x="0" y="1" width="520" height="1" fill="#c4c4c4"/>
<rect x="1" y="0" width="1" height="414" fill="#8a8a8a"/>
<rect x="518" y="0" width="1" height="414" fill="#8a8a8a"/>
<rect x="0" y="412" width="520" height="1" fill="#8a8a8a"/>
<rect x="0" y="0" width="520" height="1" fill="#222"/>
<rect x="0" y="0" width="1" height="414" fill="#111"/>
<rect x="519" y="0" width="1" height="414" fill="#444"/>
<rect x="0" y="413" width="520" height="1" fill="#111"/>
</svg>
</body></html>
